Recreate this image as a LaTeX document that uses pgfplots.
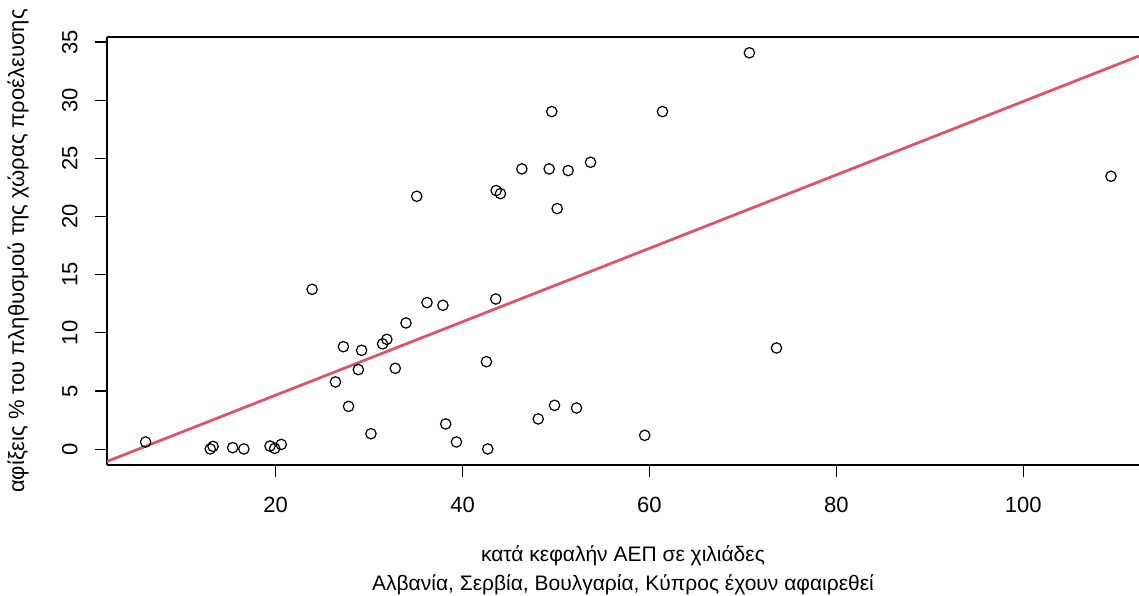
\documentclass[border=0pt]{standalone}
\usepackage{pgfplots}
\pgfplotsset{compat=1.18}
\usepackage{fontspec}
\setmainfont{Liberation Sans}
\definecolor{rred}{HTML}{DF536B}
\begin{document}
\begin{tikzpicture}
\useasboundingbox (-53.5pt,-65pt) rectangle (516pt,232.5pt);
\begin{axis}[
  at={(0pt,0pt)}, anchor=south west,
  scale only axis, width=516pt, height=214pt,
  xmin=1.95, xmax=112.4, ymin=-1.36, ymax=35.43,
  axis x line*=box, axis y line*=left,
  axis line style={line width=0.6pt},
  xtick={20,40,60,80,100}, ytick={0,5,...,35},
  xtick pos=left, ytick pos=left,
  tick align=outside, major tick length=6pt,
  tick style={black, line width=0.6pt},
  /pgf/number format/assume math mode=true,
  ticklabel style={font=\fontsize{11}{13}\selectfont},
  xticklabel style={anchor=north, inner sep=0pt},
  yticklabel style={rotate=90, anchor=south, inner sep=0pt},
  xticklabel shift=10pt, yticklabel shift=8.5pt,
  xlabel={κατά κεφαλήν ΑΕΠ σε χιλιάδες\\Αλβανία, Σερβία, Βουλγαρία, Κύπρος έχουν αφαιρεθεί},
  xlabel style={align=center, font=\fontsize{10.5}{14.5}\selectfont,
    at={(axis description cs:0.5,-0.2465)}, anchor=center},
  ylabel={αφίξεις \% του πληθυσμού της χώρας προέλευσης},
  ylabel style={font=\fontsize{11}{13}\selectfont,
    at={(axis description cs:-0.0862,0.5)}, anchor=center},
  clip=true,
]
\addplot[only marks, mark=o, mark size=2.6pt, black, mark options={line width=0.6pt}] coordinates {
(6.08,0.62) (13.0,0.02) (13.3,0.24) (15.4,0.13) (16.6,0.02)
(19.4,0.27) (19.9,0.07) (20.6,0.41) (23.9,13.74) (26.4,5.78)
(27.25,8.81) (27.8,3.68) (28.85,6.84) (29.2,8.5) (30.2,1.33)
(31.45,9.05) (31.9,9.44) (32.8,6.95) (33.95,10.85) (36.2,12.6)
(37.9,12.37) (38.2,2.17) (39.35,0.62) (35.1,21.74)
(70.7,34.07) (49.55,29.02) (61.4,29.02) (46.35,24.09) (49.27,24.09)
(51.3,23.95) (53.7,24.66) (43.6,22.23) (44.06,21.97) (50.13,20.68)
(43.56,12.91) (42.56,7.52) (42.7,0.02) (48.1,2.6) (49.85,3.77)
(52.2,3.54) (59.5,1.19) (73.6,8.7) (109.4,23.46)
};
\addplot[rred, line width=1.4pt] coordinates {(0,-1.67) (115,34.62)};
\end{axis}
\end{tikzpicture}
\end{document}
